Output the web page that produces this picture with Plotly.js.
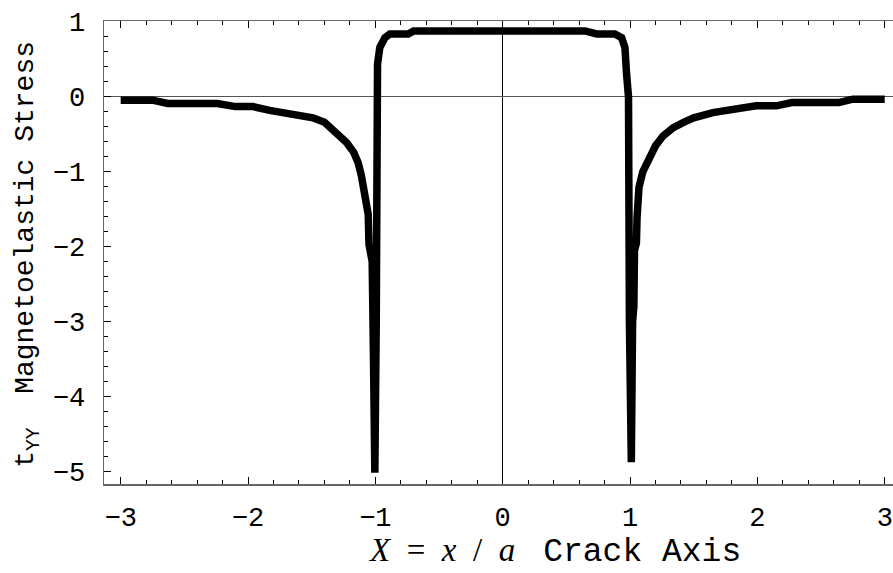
<!DOCTYPE html>
<html>
<head>
<meta charset="utf-8">
<script src="https://cdn.plot.ly/plotly-3.0.1.min.js"></script>
<style>html,body{margin:0;padding:0;background:#fff;}#chart{width:893px;height:573px;}</style>
</head>
<body>
<div id="chart"></div>
<script>
// Curve samples (X = x/a, t_YY)
const leftTailX = [-3.0, -2.75, -2.63, -2.24, -2.10, -1.96, -1.83, -1.66, -1.49, -1.40, -1.357, -1.29, -1.226, -1.17, -1.135, -1.11, -1.09, -1.075, -1.056, -1.05, -1.035, -1.025, -1.015, -1.004];
const leftTailY = [-0.044, -0.044, -0.089, -0.089, -0.13, -0.13, -0.18, -0.22, -0.28, -0.34, -0.41, -0.50, -0.61, -0.74, -0.88, -1.05, -1.26, -1.45, -1.57, -1.97, -2.10, -2.20, -3.45, -5.02];
const plateauX = [-0.993, -0.983, -0.965, -0.925, -0.886, -0.742, -0.70, 0.646, 0.738, 0.88, 0.934, 0.96, 0.973, 0.988, 0.995, 1.010];
const plateauY = [-3.0, 0.44, 0.66, 0.79, 0.84, 0.84, 0.88, 0.88, 0.84, 0.84, 0.79, 0.66, 0.30, 0.0, -3.0, -4.88];
const rightTailX = [1.02, 1.03, 1.035, 1.05, 1.055, 1.07, 1.10, 1.15, 1.20, 1.26, 1.34, 1.42, 1.50, 1.65, 1.70, 1.86, 1.99, 2.15, 2.27, 2.64, 2.75, 3.0];
const rightTailY = [-3.0, -2.8, -2.05, -1.95, -1.61, -1.21, -1.0, -0.80, -0.654, -0.52, -0.41, -0.34, -0.28, -0.21, -0.20, -0.165, -0.12, -0.12, -0.076, -0.076, -0.031, -0.031];

const xTickVals = [-3, -2, -1, 0, 1, 2, 3];
const yTickVals = [-5, -4, -3, -2, -1, 0, 1];

const xs = leftTailX.concat(plateauX, rightTailX);
const ys = leftTailY.concat(plateauY, rightTailY);

const tickFont = {family: 'Liberation Mono, DejaVu Sans Mono, monospace', size: 27, color: '#000'};
const NB = '\u00a0';

const trace = {
  x: xs, y: ys, type: 'scatter', mode: 'lines',
  line: {color: '#000', width: 7.5},
  hoverinfo: 'skip'
};

const layout = {
  width: 893, height: 573,
  margin: {l: 104, r: 0, t: 21, b: 89, pad: 0},
  paper_bgcolor: '#fff', plot_bgcolor: '#fff',
  showlegend: false,
  xaxis: {
    range: [-3.131, 3.065],
    tickmode: 'array', tickvals: xTickVals,
    ticks: 'inside', ticklen: 7, tickwidth: 1, tickcolor: '#000',
    minor: {dtick: 0.2, tick0: 0, ticks: 'inside', ticklen: 4, tickwidth: 1, tickcolor: '#000', showgrid: false},
    showline: true, linecolor: '#666', linewidth: 1.5, mirror: 'ticks',
    showgrid: false, zeroline: true, zerolinecolor: '#000', zerolinewidth: 1,
    tickfont: tickFont, ticklabelstandoff: 8
  },
  yaxis: {
    range: [-5.17, 1.013],
    tickmode: 'array', tickvals: yTickVals,
    ticks: 'inside', ticklen: 7, tickwidth: 1, tickcolor: '#000',
    minor: {dtick: 0.2, tick0: 0, ticks: 'inside', ticklen: 4, tickwidth: 1, tickcolor: '#000', showgrid: false},
    showline: true, linecolor: '#666', linewidth: 1.5, mirror: false,
    showgrid: false, zeroline: true, zerolinecolor: '#555', zerolinewidth: 1,
    tickfont: tickFont, ticklabelstandoff: 12
  },
  annotations: [
    {
      xref: 'paper', yref: 'paper', x: 0, y: 0.495, xshift: -76, yshift: 0,
      xanchor: 'center', yanchor: 'middle', textangle: -90, showarrow: false,
      text: 't<sub>YY</sub>' + NB + NB + 'Magnetoelastic' + NB + 'Stress',
      font: {family: 'Liberation Mono, monospace', size: 28, color: '#000'}
    },
    {
      xref: 'paper', yref: 'paper', x: 0.5716, y: 0, yshift: -67,
      xanchor: 'center', yanchor: 'middle', showarrow: false,
      text: '<span style="font-family:Liberation Serif"><i>X</i>' + NB + NB + '=' + NB + NB + '<i>x</i>' + NB + NB + '/' + NB + NB + '<i>a</i>' + NB + '</span>' + NB + 'Crack' + NB + 'Axis',
      font: {family: 'Liberation Mono, monospace', size: 33, color: '#000'}
    }
  ]
};

Plotly.newPlot('chart', [trace], layout, {displayModeBar: false, staticPlot: true});
</script>
</body>
</html>
